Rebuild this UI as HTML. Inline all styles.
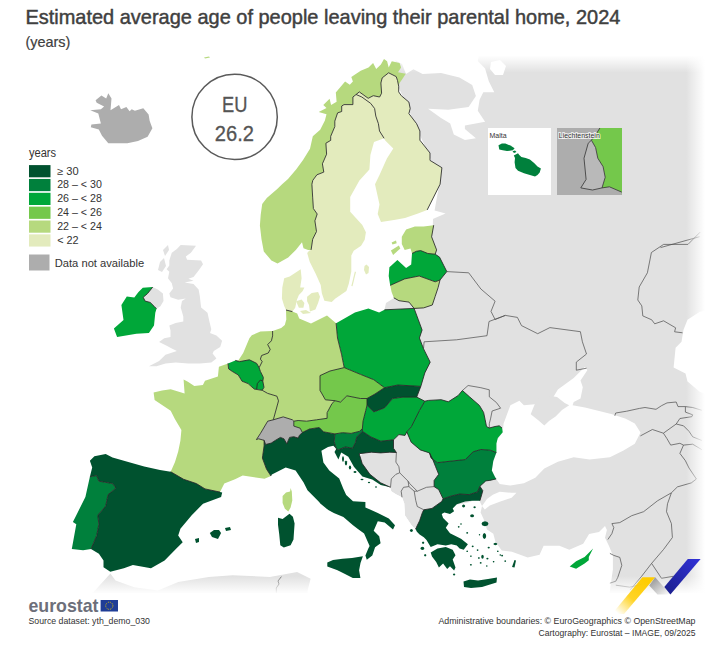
<!DOCTYPE html>
<html><head><meta charset="utf-8"><style>
html,body{margin:0;padding:0;background:#fff;}
body{width:707px;height:654px;position:relative;overflow:hidden;}
svg{position:absolute;left:0;top:0;}
svg text{font-family:"Liberation Sans",sans-serif;}
</style></head><body>
<svg width="707" height="654" viewBox="0 0 707 654">
<defs><linearGradient id="gT" x1="0" y1="0" x2="0" y2="1"><stop offset="0" stop-color="#fff" stop-opacity="1"/><stop offset="1" stop-color="#fff" stop-opacity="0"/></linearGradient><linearGradient id="gR" x1="0" y1="0" x2="1" y2="0"><stop offset="0" stop-color="#fff" stop-opacity="0"/><stop offset="1" stop-color="#fff" stop-opacity="1"/></linearGradient><linearGradient id="gB" x1="0" y1="0" x2="0" y2="1"><stop offset="0" stop-color="#fff" stop-opacity="0"/><stop offset="1" stop-color="#fff" stop-opacity="1"/></linearGradient><linearGradient id="gY" gradientUnits="userSpaceOnUse" x1="616" y1="612" x2="646" y2="578"><stop offset="0" stop-color="#ffcc00" stop-opacity="0"/><stop offset="0.45" stop-color="#ffcc00" stop-opacity="0.85"/><stop offset="1" stop-color="#ffcc00"/></linearGradient><linearGradient id="gG" x1="0" y1="0" x2="1" y2="1"><stop offset="0" stop-color="#8a8a8a"/><stop offset="1" stop-color="#ffffff"/></linearGradient><linearGradient id="gBl" x1="0" y1="1" x2="1" y2="0"><stop offset="0" stop-color="#1a1f8a"/><stop offset="1" stop-color="#3232d8"/></linearGradient></defs>
<path d="M395.0,56.0 707.0,56.0 707.0,600.0 460.0,600.0 460.0,520.0 481.0,497.0 470.0,502.0 455.0,505.0 440.0,512.0 425.0,520.0 414.2,527.9 411.2,524.8 405.0,515.6 404.3,503.4 402.0,497.3 395.9,494.2 391.3,491.2 382.1,488.1 371.4,482.0 362.0,475.0 355.0,466.0 370.0,440.0 400.0,400.0 420.0,330.0 414.1,308.4 384.5,309.8 386.0,303.0 394.0,298.0 420.0,285.0 430.0,250.0 432.0,225.0 440.0,180.0 398.0,86.0 395.0,56.0Z" fill="#e1e1e1"/>
<path d="M152.7,287.1 157.8,289.6 162.9,293.5 163.5,301.1 160.4,306.2 156.5,308.7 154.0,306.2 150.2,302.4 145.1,301.1 143.2,297.3 147.6,293.5Z" fill="#e1e1e1"/>
<path d="M180.7,245.1 196.0,245.7 190.9,252.7 185.8,256.5 187.1,259.7 201.1,260.4 203.0,264.2 198.6,270.6 193.5,276.9 188.4,278.8 193.5,280.7 184.6,282.6 193.5,283.9 198.6,289.6 199.8,296.0 201.1,307.6 207.5,312.7 209.4,321.6 211.3,329.3 210.0,333.1 216.4,335.6 222.1,340.7 220.2,347.1 213.8,350.9 212.6,353.5 216.4,358.6 211.3,362.4 199.8,363.6 188.4,363.6 175.6,362.4 165.5,363.6 156.5,366.2 148.9,366.2 159.1,361.1 165.5,354.7 176.9,350.9 171.8,348.4 166.7,345.8 159.1,342.0 164.2,338.2 170.5,336.9 170.5,330.6 169.3,325.5 175.6,322.9 183.3,321.6 183.3,316.5 180.7,307.6 182.0,301.1 185.8,298.6 178.2,299.8 170.5,297.3 169.3,293.5 173.1,288.4 171.8,283.3 168.0,278.2 169.3,271.8 166.7,269.3 169.3,265.5 169.3,260.4 171.8,252.7 176.9,248.9Z" fill="#e1e1e1"/>
<path d="M160.0,262.0 164.0,258.0 166.0,266.0 162.0,272.0 158.0,270.0Z" fill="#e1e1e1"/>
<path d="M163.0,250.0 168.0,245.0 169.0,250.0 165.0,256.0Z" fill="#e1e1e1"/>
<path d="M80.0,600.0 93.4,592.2 110.4,573.6 115.5,580.4 134.1,587.2 157.9,590.5 178.3,582.0 208.8,577.0 232.6,575.3 269.9,577.0 297.1,571.9 310.6,578.7 307.2,592.2 320.0,600.0Z" fill="#e1e1e1"/>
<path d="M395.0,50.0 480.0,50.0 477.8,61.0 485.1,68.4 488.8,81.3 494.3,92.3 483.3,92.3 479.6,99.7 477.8,110.7 485.1,121.7 464.9,125.4 464.9,129.1 475.9,138.3 464.9,140.1 453.8,134.6 450.2,123.6 441.0,118.0 428.1,108.8 448.3,109.8 468.6,107.0 475.9,96.0 472.2,84.9 459.4,77.6 441.0,73.0 422.6,73.9 413.4,69.3 406.0,73.9 402.0,64.0 395.0,60.0Z" fill="#fff"/>
<path d="M491.0,62.0 500.0,60.0 506.0,66.0 503.0,75.0 495.0,75.0 490.0,69.0Z" fill="#fff"/>
<path d="M405.0,215.0 427.2,209.9 432.8,209.9 445.6,213.6 432.8,219.1 432.8,225.5 405.0,235.0Z" fill="#fff"/>
<path d="M497.0,440.0 502.7,432.2 503.6,423.4 510.4,405.3 519.4,400.7 523.9,405.3 537.5,404.1 551.1,400.7 557.9,389.4 573.7,378.1 585.0,366.8 587.3,370.2 580.5,380.4 582.8,387.2 580.5,398.5 573.7,401.9 572.6,405.3 585.0,407.5 612.2,414.3 625.8,418.8 634.8,423.4 640.5,432.4 634.8,443.7 623.5,450.5 609.9,457.3 589.6,459.6 573.7,457.3 557.9,461.8 544.3,468.6 535.3,477.7 523.9,483.3 510.4,485.6 499.7,483.9 496.2,478.9 494.9,476.7 491.8,470.4 493.3,461.1 496.4,452.6 496.4,443.5Z" fill="#fff"/>
<path d="M492.8,494.8 499.7,491.8 511.6,492.8 516.5,492.8 511.6,497.7 499.7,501.7 489.8,505.6 484.8,509.6 482.0,506.0 487.0,499.0Z" fill="#fff"/>
<path d="M478.0,497.0 480.0,502.0 482.0,506.1 480.6,512.4 483.5,518.8 487.0,529.4 493.3,533.7 495.5,542.1 501.8,550.6 511.9,551.7 527.7,557.6 539.6,554.7 543.6,545.7 559.4,545.7 569.3,549.7 583.2,543.8 589.1,533.9 599.0,531.9 605.0,525.9 606.9,529.9 605.0,537.8 608.9,545.7 612.9,555.6 612.9,569.5 610.9,583.4 609.9,591.3 609.0,600.0 450.0,600.0 450.0,520.0Z" fill="#fff"/>
<path d="M687.5,319.8 699.4,311.9 707.0,310.0 707.0,395.0 699.4,391.4 687.5,381.5 685.5,373.5 673.6,367.6 675.6,347.7 681.5,341.7 683.5,329.8Z" fill="#fff"/>
<path d="M336.0,448.0 341.2,452.5 348.3,456.8 353.9,466.7 362.4,476.6 372.3,479.4 380.8,485.0 390.5,487.3 391.3,491.2 395.9,494.2 402.0,497.3 404.3,503.4 405.0,515.6 411.2,524.8 414.2,527.9 420.0,600.0 340.0,600.0 340.0,460.0Z" fill="#fff"/>
<path d="M530.7,414.3 534.0,406.0 537.0,399.0 551.0,396.0 557.0,397.0 564.7,403.0 569.2,405.3 562.0,410.0 555.6,416.6 549.0,421.0 544.3,425.6 538.0,420.0Z" fill="#e1e1e1"/>
<g fill="none" stroke="#4a4a4a" stroke-width="0.7" stroke-linejoin="round"><path d="M396.4,452.5 395.9,462.1 398.9,466.7 399.7,472.8 395.9,474.3 391.3,478.9 390.5,487.3"/><path d="M399.7,472.8 408.1,481.2 408.9,486.6 403.5,487.3 401.2,491.2 402.0,497.3"/><path d="M408.1,481.2 409.6,483.5 417.3,491.2 426.5,487.3 434.1,486.6"/><path d="M408.9,486.6 414.2,491.2 415.7,500.3 417.3,506.5 423.8,509.8"/><path d="M417.3,491.2 414.2,491.2"/><path d="M446.8,271.6 468.7,272.8 480.9,289.0 495.1,301.2 491.0,311.4 495.1,319.5 505.3,315.4"/><path d="M423.5,348.7 424.1,341.8 456.5,339.8 487.0,335.7 489.0,321.5 505.3,315.4 517.4,317.4 521.5,325.6 537.7,333.7 549.9,327.6 580.4,331.7 582.4,341.8 586.5,354.0 576.3,362.1 576.3,370.2 586.5,368.2"/><path d="M462.4,390.5 468.1,385.5 480.8,387.7 489.3,389.8 489.3,396.8 496.4,402.5 500.6,408.2 492.1,411.0 490.7,418.1 489.3,423.7 489.3,428.0"/><path d="M414.1,308.4 432.9,303.0"/><path d="M700.1,232.2 688.0,244.4 663.6,244.4 651.4,252.5 647.4,272.8 639.2,287.0 637.8,300.0 641.8,305.9 642.8,315.9 651.7,319.8 654.7,323.8 663.6,320.8 675.6,327.8 674.6,331.8 682.5,332.8"/><path d="M660.5,247.6 699.6,236.7"/><path d="M614.8,415.8 615.7,413.0 626.7,411.2 639.5,408.4 645.0,407.5 656.0,409.3 661.5,405.7 667.0,402.9 676.2,402.0 678.0,406.6 685.4,406.6 692.7,407.5 701.9,410.3"/><path d="M685.4,406.6 685.4,412.1 692.7,414.8 691.8,416.7 679.9,418.5 676.2,424.0 663.4,433.2"/><path d="M640.4,435.9 652.4,429.5 663.4,433.2 667.0,438.7 670.7,445.1 679.9,443.3 683.5,445.1"/><path d="M676.2,424.0 683.5,425.8 689.0,431.3 692.7,436.8 701.9,440.5"/><path d="M683.5,445.1 692.7,444.2 701.9,449.7"/><path d="M683.5,445.1 679.9,453.4 685.4,460.7 689.0,468.0 696.4,479.0"/><path d="M607.9,539.5 611.9,533.6 613.8,527.6 611.9,523.6 619.8,522.6 631.7,515.7 643.6,511.7 657.5,500.8 671.4,492.8 677.4,486.9 691.3,482.9 696.4,479.0"/><path d="M671.4,492.8 667.5,503.8 666.5,511.7 671.4,523.6 672.4,537.5 663.5,549.5 651.6,563.4 641.6,576.3 630.0,590.0"/><path d="M651.6,563.4 659.5,575.3 661.5,578.3 673.4,576.3"/><path d="M609.9,553.4 613.8,555.4 619.8,557.4 621.8,565.4 617.8,577.3 615.8,581.2 609.9,583.2"/><path d="M615.8,585.2 629.7,587.2 641.6,584.4"/><path d="M281.4,576.6 278.0,581.0 279.0,584.0 276.3,588.0 276.3,593.0"/></g>
<rect x="380" y="55.5" width="327" height="17" fill="url(#gT)"/>
<rect x="686" y="50" width="19" height="560" fill="url(#gR)"/><rect x="705" y="50" width="2" height="560" fill="#fff"/>
<rect x="60" y="576" width="647" height="18" fill="url(#gB)"/>
<rect x="0" y="593.5" width="707" height="25" fill="#fff"/>
<path d="M95.6,100.2 101.4,95.4 106.2,98.6 108.3,93.3 111.5,98.6 110.5,110.3 119.0,105.0 121.0,109.2 126.4,107.1 129.6,111.3 131.7,109.2 134.9,110.8 143.3,108.2 148.6,114.5 149.7,120.9 152.4,128.3 147.6,136.8 138.0,141.0 127.4,143.2 116.8,143.2 108.3,143.2 102.0,135.7 98.8,129.4 90.8,127.2 91.4,124.6 100.9,123.5 98.3,113.5 90.3,110.3 100.9,109.2 104.1,106.6 96.7,102.8Z" fill="#adadad"/>
<path d="M311.1,249.9 308.1,249.9 303.5,248.3 302.0,242.2 295.8,249.9 288.2,257.5 277.5,263.6 271.4,260.6 263.8,251.4 261.5,239.2 259.9,225.4 260.7,214.7 262.2,204.0 266.8,197.9 277.5,188.8 282.1,184.2 288.0,178.9 296.3,169.3 303.2,159.7 310.0,148.7 312.8,136.3 320.2,129.8 324.9,120.5 326.5,114.2 318.7,111.9 326.5,108.0 323.3,104.9 329.6,98.7 331.1,104.9 336.6,101.8 335.8,92.5 345.1,81.6 349.8,84.7 352.9,81.6 351.3,76.9 360.7,70.7 368.5,67.6 373.1,62.9 376.2,69.1 380.9,64.4 384.0,59.0 387.1,61.3 388.7,67.6 391.8,61.3 399.6,62.9 401.1,67.6 398.0,72.2 405.8,73.8 402.7,78.4 399.6,83.1 398.7,86.2 397.5,80.5 396.2,76.6 388.6,72.8 382.2,77.9 380.9,83.0 381.6,93.2 379.6,97.0 373.3,95.7 368.2,98.3 359.3,91.9 356.1,94.5 352.9,97.0 352.9,104.6 344.0,104.6 341.7,106.0 341.7,111.5 337.6,112.9 334.8,121.1 334.8,126.6 330.7,136.3 330.7,140.4 325.9,143.2 326.6,154.2 322.4,163.8 323.8,172.1 316.9,174.8 312.8,180.3 311.9,184.2 312.7,197.9 313.4,208.6 317.2,214.0 314.9,220.8 316.5,231.5 312.7,239.2 311.1,249.9Z" fill="#b6d97e"/>
<path d="M356.1,94.5 361.8,97.0 370.7,103.4 374.6,108.5 375.8,116.1 378.4,123.7 379.5,131.0 384.1,138.3 374.0,142.0 370.4,154.9 369.4,169.5 359.4,180.6 350.2,197.1 350.2,211.7 362.3,225.0 365.9,232.3 364.7,239.7 361.1,245.8 353.7,250.7 351.3,255.6 351.3,271.5 348.8,283.7 346.4,291.1 335.4,298.4 331.7,302.1 324.4,300.8 321.9,293.5 320.7,284.9 315.8,273.9 309.7,261.7 307.2,253.1 309.1,250.7 311.1,249.9 312.7,239.2 316.5,231.5 314.9,220.8 317.2,214.0 313.4,208.6 312.7,197.9 311.9,184.2 312.8,180.3 316.9,174.8 323.8,172.1 322.4,163.8 326.6,154.2 325.9,143.2 330.7,140.4 330.7,136.3 334.8,126.6 334.8,121.1 337.6,112.9 341.7,111.5 341.7,106.0 344.0,104.6 352.9,104.6 352.9,97.0 356.1,94.5Z" fill="#e3ebbd"/>
<path d="M398.7,86.2 398.7,91.9 401.3,95.7 408.9,102.1 410.2,108.5 408.9,113.6 416.6,123.7 419.9,131.0 419.9,140.2 430.0,153.0 430.0,160.4 441.9,167.7 440.1,184.2 427.2,209.9 418.0,213.6 405.0,218.0 394.0,220.0 381.0,222.0 377.7,214.0 379.5,204.4 375.0,184.2 379.5,175.0 386.9,158.5 393.3,148.4 385.0,140.2 384.1,138.3 379.5,131.0 378.4,123.7 375.8,116.1 374.6,108.5 370.7,103.4 361.8,97.0 356.1,94.5 359.3,91.9 368.2,98.3 373.3,95.7 379.6,97.0 381.6,93.2 380.9,83.0 382.2,77.9 388.6,72.8 396.2,76.6 397.5,80.5 398.7,86.2Z" fill="#e3ebbd"/>
<path d="M433.7,225.2 431.6,236.8 436.6,249.9 435.2,254.2 427.9,253.5 420.7,250.6 416.3,251.3 412.0,253.5 410.5,248.4 404.7,249.9 401.8,244.0 401.8,236.8 406.1,229.5 414.9,226.6 423.6,226.6 433.7,225.2Z" fill="#b6d97e"/>
<path d="M412.0,253.5 416.3,251.3 420.7,250.6 427.9,253.5 435.2,254.2 439.5,257.1 443.9,265.8 446.8,271.6 440.0,280.0 435.2,281.8 419.2,276.0 404.7,278.9 390.2,285.4 388.7,276.0 389.4,267.3 397.4,260.0 406.1,268.0 411.2,264.4 412.0,253.5Z" fill="#00a739"/>
<path d="M390.2,285.4 391.6,292.0 393.8,297.8 398.9,300.7 409.0,302.1 414.1,308.4 423.6,307.9 432.3,305.0 435.2,296.3 438.1,287.6 440.0,280.0 435.2,281.8 419.2,276.0 404.7,278.9 390.2,285.4Z" fill="#b6d97e"/>
<path d="M336.1,323.2 354.9,312.5 368.4,308.4 379.1,312.5 384.5,309.8 414.1,308.4 418.1,319.2 422.1,330.0 419.4,338.0 423.5,348.7 430.2,362.2 424.8,372.9 420.8,386.4 397.9,385.0 384.5,387.7 373.7,379.7 360.3,374.3 344.2,367.6 341.5,354.1 337.5,338.0 336.1,323.2Z" fill="#00a739"/>
<path d="M336.1,323.2 327.0,315.4 311.0,323.4 299.2,318.4 297.2,313.5 292.4,311.6 286.0,310.0 286.3,319.4 284.8,324.9 281.2,328.0 272.6,331.0 272.6,335.9 271.4,340.8 267.7,344.5 270.2,349.4 268.3,353.0 261.6,355.5 260.4,359.1 262.2,361.6 259.1,367.7 260.4,371.4 263.4,377.5 262.8,381.2 264.0,387.3 262.2,390.3 267.7,393.4 276.9,396.2 278.5,400.9 273.3,419.8 283.2,416.9 292.4,419.8 293.8,421.2 298.1,420.5 306.6,421.2 316.5,419.8 327.1,418.3 327.1,412.7 332.0,403.5 334.9,400.7 325.4,399.8 320.0,390.4 320.0,375.6 330.0,371.0 344.2,367.6 341.5,354.1 337.5,338.0 336.1,323.2Z" fill="#b6d97e"/>
<path d="M235.3,360.4 238.3,360.4 243.2,353.0 249.4,338.3 251.8,335.3 260.4,331.6 272.6,331.0 272.6,335.9 271.4,340.8 267.7,344.5 270.2,349.4 268.3,353.0 261.6,355.5 260.4,359.1 262.2,361.6 259.1,367.7 256.7,363.4 249.4,359.8 239.6,361.6 235.3,360.4Z" fill="#b6d97e"/>
<path d="M235.3,360.4 228.0,363.4 228.6,368.9 232.2,371.4 238.3,375.0 242.0,381.2 248.1,383.6 254.3,389.1 262.2,390.3 264.0,387.3 262.8,381.2 263.4,377.5 260.4,371.4 259.1,367.7 256.7,363.4 249.4,359.8 239.6,361.6 235.3,360.4Z" fill="#00a739"/>
<path d="M228.0,363.4 218.9,366.8 217.9,376.4 205.0,380.7 202.9,385.0 194.3,386.1 187.9,381.8 183.6,379.6 184.6,393.6 170.7,389.3 162.1,390.4 153.6,392.5 154.6,400.0 164.3,406.4 170.7,410.7 175.0,419.3 181.4,430.0 180.4,440.7 178.2,451.4 175.0,462.1 170.7,471.8 183.6,479.3 196.4,483.6 205.0,488.9 220.0,492.1 224.3,483.6 235.0,479.3 242.7,475.6 264.5,478.7 271.0,476.0 266.5,469.1 262.4,458.1 262.7,455.8 264.1,445.9 264.1,440.3 258.5,438.8 256.4,439.6 260.6,433.2 267.7,421.2 273.3,419.8 278.5,400.9 276.9,396.2 267.7,393.4 262.2,390.3 254.3,389.1 248.1,383.6 242.0,381.2 238.3,375.0 232.2,371.4 228.6,368.9 228.0,363.4Z" fill="#b6d97e"/>
<path d="M264.1,440.3 258.5,438.8 256.4,439.6 260.6,433.2 267.7,421.2 273.3,419.8 283.2,416.9 292.4,419.8 293.8,421.2 293.8,426.1 300.2,428.2 302.3,432.5 299.5,435.3 298.1,438.1 293.8,436.7 289.6,437.4 286.8,443.8 283.9,438.8 280.4,437.4 275.5,440.3 271.2,443.1 265.6,444.5 264.1,440.3Z" fill="#adadad"/>
<path d="M264.1,440.3 265.6,444.5 271.2,443.1 275.5,440.3 280.4,437.4 283.9,438.8 286.8,443.8 289.6,437.4 293.8,436.7 298.1,438.1 299.5,435.3 302.3,432.5 309.4,429.0 319.3,427.5 323.5,431.8 334.9,433.9 334.2,441.7 336.3,448.7 333.3,445.8 328.0,447.0 321.4,450.7 323.4,462.6 329.3,470.5 339.2,478.5 343.2,488.4 346.2,495.0 353.0,501.2 365.4,501.9 365.4,507.4 377.8,512.9 388.8,518.4 395.0,525.3 393.0,529.4 384.7,522.5 377.8,521.2 373.7,530.8 379.2,536.3 380.6,543.2 375.1,547.3 372.3,555.6 366.8,559.7 365.4,555.6 368.2,548.7 369.6,546.0 364.1,533.6 358.6,529.4 353.0,525.3 343.4,517.0 333.8,512.9 328.3,510.1 320.0,503.3 319.4,502.2 307.5,490.3 303.6,482.4 295.6,470.5 285.7,467.6 271.9,474.5 271.0,476.0 266.5,469.1 262.4,458.1 262.7,455.8 264.1,445.9 264.1,440.3Z" fill="#00522f"/>
<path d="M334.9,400.7 332.0,403.5 327.1,412.7 327.1,418.3 316.5,419.8 306.6,421.2 298.1,420.5 293.8,421.2 293.8,426.1 300.2,428.2 302.3,432.5 309.4,429.0 319.3,427.5 323.5,431.8 334.9,433.9 342.6,432.7 351.1,433.4 359.6,431.3 362.4,428.5 363.0,421.3 365.7,410.6 367.0,405.2 367.0,398.5 360.3,398.5 346.9,395.8 340.5,402.1 334.9,400.7Z" fill="#74c84b"/>
<path d="M334.9,400.7 325.4,399.8 320.0,390.4 320.0,375.6 330.0,371.0 344.2,367.6 360.3,374.3 373.7,379.7 384.5,387.7 375.0,394.0 367.0,398.5 360.3,398.5 346.9,395.8 340.5,402.1 334.9,400.7Z" fill="#74c84b"/>
<path d="M384.5,387.7 397.9,385.0 420.8,386.4 416.7,397.1 403.3,397.1 392.6,398.5 384.5,407.9 373.7,411.9 367.0,405.2 367.0,398.5 375.0,394.0 384.5,387.7Z" fill="#00522f"/>
<path d="M416.7,397.1 403.3,397.1 392.6,398.5 384.5,407.9 373.7,411.9 367.0,405.2 365.7,410.6 363.0,421.3 362.4,428.5 362.4,431.3 371.0,437.0 380.8,441.2 393.5,439.8 398.9,434.6 405.0,435.4 406.8,431.9 411.4,426.7 419.4,410.6 424.8,401.2 416.7,397.1Z" fill="#00a739"/>
<path d="M336.3,448.7 334.2,441.7 334.9,433.9 342.6,432.7 351.1,433.4 359.6,431.3 362.4,428.5 362.4,431.3 356.8,437.0 355.4,442.6 352.5,448.3 345.5,446.9 338.4,449.7 336.3,448.7Z" fill="#00803c"/>
<path d="M336.3,448.7 338.4,449.7 345.5,446.9 352.5,448.3 355.4,442.6 356.8,437.0 362.4,431.3 371.0,437.0 380.8,441.2 393.5,439.8 393.5,448.3 396.4,452.5 389.8,452.2 380.6,452.9 371.4,452.2 359.2,453.7 362.2,463.6 369.9,474.3 380.6,482.8 390.5,487.3 380.8,485.0 372.3,479.4 362.4,476.6 353.9,466.7 348.3,456.8 341.2,452.5 338.4,459.6 334.5,452.0 336.3,448.7Z" fill="#00522f"/>
<path d="M424.8,401.2 419.4,410.6 411.4,426.7 406.8,431.9 411.2,442.2 420.3,449.9 429.5,452.9 431.1,458.0 437.3,462.7 451.3,461.1 465.3,459.6 473.1,451.8 480.9,449.5 490.2,450.2 496.4,452.6 496.4,443.5 497.8,437.9 502.7,432.2 502.0,428.0 499.2,425.8 495.0,426.5 489.3,428.0 486.5,426.5 485.1,419.5 483.6,412.4 479.4,405.4 469.5,396.8 462.4,390.5 458.2,395.5 448.3,401.8 441.2,399.7 428.5,400.4 424.8,401.2Z" fill="#00a739"/>
<path d="M496.4,452.6 490.2,450.2 480.9,449.5 473.1,451.8 465.3,459.6 451.3,461.1 437.3,462.7 431.1,458.0 429.5,452.9 432.6,459.1 435.6,466.7 438.7,474.3 434.1,480.5 434.1,486.6 438.7,489.6 443.1,498.8 451.3,496.0 459.6,494.0 469.2,494.6 477.5,491.9 479.9,486.3 485.8,480.9 489.8,480.4 496.2,478.9 494.9,476.7 491.8,470.4 493.3,461.1 496.4,452.6Z" fill="#00803c"/>
<path d="M479.9,486.3 477.5,491.9 469.2,494.6 459.6,494.0 451.3,496.0 443.1,498.8 441.7,501.5 432.0,508.4 423.8,509.8 422.4,512.5 419.6,520.8 415.5,529.1 416.9,531.8 419.6,534.6 423.8,537.3 426.5,540.1 430.7,547.0 437.5,544.2 445.8,545.6 451.3,544.2 456.8,545.6 459.6,548.4 463.7,549.7 467.9,544.2 461.0,538.7 455.5,536.0 450.0,533.2 445.8,527.7 448.6,523.6 443.1,518.1 441.7,513.9 444.4,512.5 450.0,513.9 454.1,511.2 452.7,508.4 456.8,504.3 465.1,501.5 472.0,500.8 479.9,500.7 481.6,495.0 482.8,490.7 479.9,486.3Z" fill="#00522f"/>
<path d="M292.4,311.6 295.2,307.7 297.0,299.4 298.9,294.9 302.5,291.2 304.4,287.5 300.2,287.5 301.6,278.3 300.7,269.2 289.7,276.5 284.2,278.3 282.3,287.5 281.9,298.5 284.2,305.9 286.0,310.0Z" fill="#e3ebbd"/>
<path d="M296.1,301.3 301.6,299.4 304.4,303.1 303.4,307.7 298.9,307.7Z" fill="#e3ebbd"/>
<path d="M307.1,296.7 311.7,293.0 318.1,292.1 320.0,296.7 318.1,303.1 315.4,309.5 309.9,311.4 309.0,305.0 307.1,301.3Z" fill="#e3ebbd"/>
<path d="M300.0,311.0 306.0,310.0 311.0,313.0 303.0,314.0Z" fill="#e3ebbd"/>
<path d="M336.0,288.0 339.0,287.0 340.0,291.0 337.0,292.0Z" fill="#e3ebbd"/>
<path d="M366.5,264.5 369.0,267.0 368.5,273.0 366.0,274.5 364.0,270.0 364.5,266.0Z" fill="#e3ebbd"/>
<path d="M354.9,271.5 356.0,272.0 352.5,286.2 351.3,286.0Z" fill="#e3ebbd"/>
<path d="M390.9,250.6 398.9,245.5 400.3,248.4 393.1,254.9Z" fill="#b6d97e"/>
<path d="M391.6,242.6 396.0,240.4 396.7,243.3 392.5,244.5Z" fill="#b6d97e"/>
<path d="M138.5,292.1 142.8,287.8 152.7,287.1 147.6,293.5 143.2,297.3 145.1,301.1 150.2,302.4 154.0,306.2 156.5,308.7 155.3,312.7 154.0,325.5 148.9,333.1 136.4,333.8 117.1,337.0 113.9,328.5 123.5,319.9 121.4,304.9 126.8,296.4 134.3,297.4Z" fill="#00a739"/>
<path d="M89.9,476.7 96.7,475.5 98.9,481.2 112.5,483.5 115.9,488.0 108.0,494.8 105.7,506.1 97.8,515.2 98.9,524.2 96.7,535.5 91.0,549.1 98.9,553.7 103.5,560.4 103.5,567.2 110.3,571.7 123.9,568.3 132.9,565.0 151.0,568.3 164.6,560.4 175.9,549.1 182.7,542.3 178.2,535.5 180.4,528.8 191.7,515.2 203.0,503.8 221.1,497.0 222.2,492.5 220.0,492.1 205.0,488.9 196.4,483.6 183.6,479.3 170.7,471.8 160.0,469.9 144.2,466.5 128.3,462.0 112.5,457.4 105.7,454.1 94.4,456.3 89.9,460.8 92.2,467.6Z" fill="#00522f"/>
<path d="M89.9,476.7 96.7,475.5 98.9,481.2 112.5,483.5 115.9,488.0 108.0,494.8 105.7,506.1 97.8,515.2 98.9,524.2 96.7,535.5 91.0,549.1 83.1,550.2 71.8,549.1 76.3,524.2 72.9,522.0 76.3,515.2 85.4,497.0Z" fill="#00803c"/>
<path d="M209.8,533.0 214.0,530.0 219.0,529.9 221.1,533.0 218.0,538.9 212.0,537.0Z" fill="#00522f"/>
<path d="M225.0,528.0 230.0,527.0 231.0,530.0 226.0,531.0Z" fill="#00522f"/>
<path d="M195.0,539.0 199.0,538.0 199.0,542.0 196.0,543.0Z" fill="#00522f"/>
<path d="M290.6,488.0 291.8,491.5 292.3,500.6 290.6,507.5 288.3,511.5 284.9,508.7 282.6,502.9 282.6,496.0 286.0,492.6 290.1,491.5Z" fill="#b6d97e"/>
<path d="M278.0,517.8 282.6,519.0 289.5,513.8 292.9,516.7 294.6,523.6 294.1,530.4 293.5,539.6 290.6,545.3 283.8,547.6 280.3,545.3 279.2,533.9 278.0,524.7Z" fill="#00522f"/>
<path d="M327.3,562.6 333.0,560.0 342.6,558.8 352.0,558.0 362.9,556.3 360.5,563.0 359.1,570.3 360.4,577.9 352.8,577.9 345.0,574.0 337.5,570.3 327.3,566.5Z" fill="#00522f"/>
<path d="M430.7,552.5 437.5,548.4 445.8,547.0 452.7,549.7 455.5,555.2 452.7,559.4 455.5,567.6 454.1,570.4 450.0,566.3 447.2,569.0 443.1,563.5 438.9,567.6 436.2,562.1 432.0,556.6Z" fill="#00522f"/>
<path d="M463.5,581.5 470.0,579.5 478.0,580.5 488.0,579.0 497.0,577.5 496.5,582.5 490.0,584.5 482.0,587.0 471.0,588.0 464.0,587.0Z" fill="#00522f"/>
<path d="M465.2,506.0 464.7,507.0 463.6,507.4 462.5,507.0 462.0,506.0 462.5,505.0 463.6,504.6 464.7,505.0Z" fill="#00522f"/>
<path d="M475.8,507.2 475.4,507.9 474.6,508.2 473.8,507.9 473.4,507.2 473.8,506.5 474.6,506.2 475.4,506.5Z" fill="#00522f"/>
<path d="M474.1,515.8 473.5,516.9 472.1,517.3 470.7,516.9 470.1,515.8 470.7,514.7 472.1,514.3 473.5,514.7Z" fill="#00522f"/>
<path d="M488.5,523.8 487.5,525.6 485.0,526.3 482.5,525.6 481.5,523.8 482.5,522.0 485.0,521.3 487.5,522.0Z" fill="#00522f"/>
<path d="M486.2,536.0 485.7,538.1 484.4,539.0 483.1,538.1 482.6,536.0 483.1,533.9 484.4,533.0 485.7,533.9Z" fill="#00522f"/>
<path d="M468.2,532.9 467.9,533.5 467.2,533.8 466.5,533.5 466.2,532.9 466.5,532.3 467.2,532.0 467.9,532.3Z" fill="#00522f"/>
<path d="M497.4,544.0 496.8,544.8 495.4,545.2 494.0,544.8 493.4,544.0 494.0,543.2 495.4,542.8 496.8,543.2Z" fill="#00522f"/>
<path d="M489.8,547.6 489.5,548.2 488.7,548.4 487.9,548.2 487.6,547.6 487.9,547.0 488.7,546.8 489.5,547.0Z" fill="#00522f"/>
<path d="M473.7,546.4 473.4,547.0 472.7,547.2 472.0,547.0 471.7,546.4 472.0,545.8 472.7,545.6 473.4,545.8Z" fill="#00522f"/>
<path d="M478.5,550.1 478.2,550.7 477.6,551.0 477.0,550.7 476.7,550.1 477.0,549.5 477.6,549.2 478.2,549.5Z" fill="#00522f"/>
<path d="M483.8,556.8 483.4,558.2 482.5,558.8 481.6,558.2 481.2,556.8 481.6,555.4 482.5,554.8 483.4,555.4Z" fill="#00522f"/>
<path d="M479.9,558.0 479.6,558.6 478.9,558.9 478.2,558.6 477.9,558.0 478.2,557.4 478.9,557.1 479.6,557.4Z" fill="#00522f"/>
<path d="M488.5,558.6 488.2,559.2 487.4,559.4 486.6,559.2 486.3,558.6 486.6,558.0 487.4,557.8 488.2,558.0Z" fill="#00522f"/>
<path d="M471.9,564.8 471.6,565.4 470.9,565.6 470.2,565.4 469.9,564.8 470.2,564.2 470.9,564.0 471.6,564.2Z" fill="#00522f"/>
<path d="M481.7,562.9 481.4,563.5 480.7,563.7 480.0,563.5 479.7,562.9 480.0,562.3 480.7,562.1 481.4,562.3Z" fill="#00522f"/>
<path d="M503.1,555.6 502.8,556.2 502.1,556.5 501.4,556.2 501.1,555.6 501.4,555.0 502.1,554.7 502.8,555.0Z" fill="#00522f"/>
<path d="M506.1,561.1 505.8,561.7 505.2,561.9 504.6,561.7 504.3,561.1 504.6,560.5 505.2,560.3 505.8,560.5Z" fill="#00522f"/>
<path d="M494.4,561.7 494.2,562.3 493.6,562.5 493.0,562.3 492.8,561.7 493.0,561.1 493.6,560.9 494.2,561.1Z" fill="#00522f"/>
<path d="M487.6,566.0 487.4,566.6 486.8,566.8 486.2,566.6 486.0,566.0 486.2,565.4 486.8,565.2 487.4,565.4Z" fill="#00522f"/>
<path d="M468.0,551.3 467.8,551.9 467.2,552.1 466.6,551.9 466.4,551.3 466.6,550.7 467.2,550.5 467.8,550.7Z" fill="#00522f"/>
<path d="M471.7,556.2 471.5,556.8 470.9,557.0 470.3,556.8 470.1,556.2 470.3,555.6 470.9,555.4 471.5,555.6Z" fill="#00522f"/>
<path d="M498.6,551.3 498.4,551.9 497.8,552.1 497.2,551.9 497.0,551.3 497.2,550.7 497.8,550.5 498.4,550.7Z" fill="#00522f"/>
<path d="M501.1,555.0 500.9,555.6 500.3,555.8 499.7,555.6 499.5,555.0 499.7,554.4 500.3,554.2 500.9,554.4Z" fill="#00522f"/>
<path d="M459.6,526.8 459.3,527.4 458.7,527.7 458.1,527.4 457.8,526.8 458.1,526.2 458.7,525.9 459.3,526.2Z" fill="#00522f"/>
<path d="M461.8,524.0 461.6,524.6 461.0,524.8 460.4,524.6 460.2,524.0 460.4,523.4 461.0,523.2 461.6,523.4Z" fill="#00522f"/>
<path d="M480.2,534.8 480.0,535.3 479.5,535.5 479.0,535.3 478.8,534.8 479.0,534.3 479.5,534.1 480.0,534.3Z" fill="#00522f"/>
<path d="M412.9,530.5 412.5,531.6 411.4,532.0 410.3,531.6 409.9,530.5 410.3,529.4 411.4,529.0 412.5,529.4Z" fill="#00522f"/>
<path d="M424.4,548.4 423.8,549.5 422.4,550.0 421.0,549.5 420.4,548.4 421.0,547.3 422.4,546.8 423.8,547.3Z" fill="#00522f"/>
<path d="M426.4,555.2 426.0,556.0 425.2,556.4 424.4,556.0 424.0,555.2 424.4,554.4 425.2,554.0 426.0,554.4Z" fill="#00522f"/>
<path d="M424.3,542.8 423.9,543.6 423.1,544.0 422.3,543.6 421.9,542.8 422.3,542.0 423.1,541.6 423.9,542.0Z" fill="#00522f"/>
<path d="M455.3,574.5 454.9,575.2 454.1,575.5 453.3,575.2 452.9,574.5 453.3,573.8 454.1,573.5 454.9,573.8Z" fill="#00522f"/>
<path d="M512.0,567.0 514.5,560.0 516.0,560.5 514.5,567.5Z" fill="#00522f"/>
<path d="M344.0,459.0 343.7,461.1 343.0,462.0 342.3,461.1 342.0,459.0 342.3,456.9 343.0,456.0 343.7,456.9Z" fill="#00522f"/>
<path d="M347.2,463.0 346.8,464.8 346.0,465.5 345.2,464.8 344.8,463.0 345.2,461.2 346.0,460.5 346.8,461.2Z" fill="#00522f"/>
<path d="M351.2,467.5 350.8,468.9 350.0,469.5 349.2,468.9 348.8,467.5 349.2,466.1 350.0,465.5 350.8,466.1Z" fill="#00522f"/>
<path d="M356.5,472.0 356.1,472.7 355.0,473.0 353.9,472.7 353.5,472.0 353.9,471.3 355.0,471.0 356.1,471.3Z" fill="#00522f"/>
<path d="M363.5,479.5 363.1,480.1 362.0,480.3 360.9,480.1 360.5,479.5 360.9,478.9 362.0,478.7 363.1,478.9Z" fill="#00522f"/>
<path d="M370.2,482.5 369.8,483.0 369.0,483.2 368.2,483.0 367.8,482.5 368.2,482.0 369.0,481.8 369.8,482.0Z" fill="#00522f"/>
<path d="M377.0,487.0 376.7,487.5 376.0,487.7 375.3,487.5 375.0,487.0 375.3,486.5 376.0,486.3 376.7,486.5Z" fill="#00522f"/>
<path d="M569.7,566.5 576.1,561.2 584.6,557.0 593.1,548.5 588.8,557.0 588.8,560.2 584.6,563.4 576.1,568.7Z" fill="#00a739"/>
<g fill="none" stroke="#262626" stroke-width="0.85" stroke-linejoin="round"><path d="M356.1,94.5 352.9,97.0 352.9,104.6 344.0,104.6 341.7,106.0 341.7,111.5 337.6,112.9 334.8,121.1 334.8,126.6 330.7,136.3 330.7,140.4 325.9,143.2 326.6,154.2 322.4,163.8 323.8,172.1 316.9,174.8 312.8,180.3 311.9,184.2 312.7,197.9 313.4,208.6 317.2,214.0 314.9,220.8 316.5,231.5 312.7,239.2 311.1,249.9"/><path d="M398.7,86.2 397.5,80.5 396.2,76.6 388.6,72.8 382.2,77.9 380.9,83.0 381.6,93.2 379.6,97.0 373.3,95.7 368.2,98.3 359.3,91.9 356.1,94.5"/><path d="M356.1,94.5 361.8,97.0 370.7,103.4 374.6,108.5 375.8,116.1 378.4,123.7 379.5,131.0 384.1,138.3"/><path d="M398.7,86.2 398.7,91.9 401.3,95.7 408.9,102.1 410.2,108.5 408.9,113.6 416.6,123.7 419.9,131.0 419.9,140.2 430.0,153.0 430.0,160.4 441.9,167.7 440.1,184.2 427.2,209.9"/><path d="M433.7,225.2 431.6,236.8 436.6,249.9 435.2,254.2"/><path d="M435.2,254.2 427.9,253.5 420.7,250.6 416.3,251.3 412.0,253.5"/><path d="M435.2,254.2 439.5,257.1 443.9,265.8 446.8,271.6"/><path d="M446.8,271.6 440.0,280.0"/><path d="M440.0,280.0 435.2,281.8 419.2,276.0 404.7,278.9 390.2,285.4"/><path d="M393.8,297.8 398.9,300.7 409.0,302.1 414.1,308.4"/><path d="M414.1,308.4 423.6,307.9 432.3,305.0 435.2,296.3 438.1,287.6 440.0,280.0"/><path d="M384.5,309.8 414.1,308.4"/><path d="M414.1,308.4 418.1,319.2 422.1,330.0 419.4,338.0 423.5,348.7"/><path d="M423.5,348.7 430.2,362.2 424.8,372.9 420.8,386.4"/><path d="M420.8,386.4 397.9,385.0 384.5,387.7"/><path d="M384.5,387.7 373.7,379.7 360.3,374.3 344.2,367.6"/><path d="M344.2,367.6 341.5,354.1 337.5,338.0 336.1,323.2"/><path d="M292.4,311.6 286.0,310.0"/><path d="M272.6,331.0 272.6,335.9 271.4,340.8 267.7,344.5 270.2,349.4 268.3,353.0 261.6,355.5 260.4,359.1 262.2,361.6 259.1,367.7"/><path d="M259.1,367.7 260.4,371.4 263.4,377.5 262.8,381.2 264.0,387.3 262.2,390.3"/><path d="M262.2,390.3 267.7,393.4 276.9,396.2 278.5,400.9 273.3,419.8"/><path d="M273.3,419.8 283.2,416.9 292.4,419.8 293.8,421.2"/><path d="M293.8,421.2 298.1,420.5 306.6,421.2 316.5,419.8 327.1,418.3 327.1,412.7 332.0,403.5 334.9,400.7"/><path d="M334.9,400.7 325.4,399.8 320.0,390.4 320.0,375.6 330.0,371.0 344.2,367.6"/><path d="M259.1,367.7 256.7,363.4 249.4,359.8 239.6,361.6 235.3,360.4"/><path d="M228.0,363.4 228.6,368.9 232.2,371.4 238.3,375.0 242.0,381.2 248.1,383.6 254.3,389.1 262.2,390.3"/><path d="M170.7,471.8 183.6,479.3 196.4,483.6 205.0,488.9 220.0,492.1"/><path d="M271.0,476.0 266.5,469.1 262.4,458.1 262.7,455.8 264.1,445.9 264.1,440.3"/><path d="M264.1,440.3 258.5,438.8 256.4,439.6 260.6,433.2 267.7,421.2 273.3,419.8"/><path d="M264.1,440.3 265.6,444.5 271.2,443.1 275.5,440.3 280.4,437.4 283.9,438.8 286.8,443.8 289.6,437.4 293.8,436.7 298.1,438.1 299.5,435.3 302.3,432.5"/><path d="M302.3,432.5 300.2,428.2 293.8,426.1 293.8,421.2"/><path d="M302.3,432.5 309.4,429.0 319.3,427.5 323.5,431.8 334.9,433.9"/><path d="M334.9,433.9 334.2,441.7 336.3,448.7"/><path d="M334.9,433.9 342.6,432.7 351.1,433.4 359.6,431.3 362.4,428.5"/><path d="M362.4,428.5 363.0,421.3 365.7,410.6 367.0,405.2"/><path d="M367.0,405.2 367.0,398.5"/><path d="M367.0,398.5 360.3,398.5 346.9,395.8 340.5,402.1 334.9,400.7"/><path d="M384.5,387.7 375.0,394.0 367.0,398.5"/><path d="M420.8,386.4 416.7,397.1"/><path d="M416.7,397.1 403.3,397.1 392.6,398.5 384.5,407.9 373.7,411.9 367.0,405.2"/><path d="M416.7,397.1 424.8,401.2"/><path d="M424.8,401.2 419.4,410.6 411.4,426.7 406.8,431.9"/><path d="M406.8,431.9 405.0,435.4 398.9,434.6 393.5,439.8"/><path d="M393.5,439.8 380.8,441.2 371.0,437.0 362.4,431.3"/><path d="M362.4,428.5 362.4,431.3"/><path d="M362.4,431.3 356.8,437.0 355.4,442.6 352.5,448.3 345.5,446.9 338.4,449.7 336.3,448.7"/><path d="M393.5,439.8 393.5,448.3 396.4,452.5"/><path d="M396.4,452.5 389.8,452.2 380.6,452.9 371.4,452.2 359.2,453.7 362.2,463.6 369.9,474.3 380.6,482.8 390.5,487.3"/><path d="M406.8,431.9 411.2,442.2 420.3,449.9 429.5,452.9"/><path d="M429.5,452.9 431.1,458.0 437.3,462.7 451.3,461.1 465.3,459.6 473.1,451.8 480.9,449.5 490.2,450.2 496.4,452.6"/><path d="M502.0,428.0 499.2,425.8 495.0,426.5 489.3,428.0"/><path d="M489.3,428.0 486.5,426.5 485.1,419.5 483.6,412.4 479.4,405.4 469.5,396.8 462.4,390.5"/><path d="M462.4,390.5 458.2,395.5 448.3,401.8 441.2,399.7 428.5,400.4 424.8,401.2"/><path d="M496.2,478.9 489.8,480.4 485.8,480.9 479.9,486.3"/><path d="M479.9,486.3 477.5,491.9 469.2,494.6 459.6,494.0 451.3,496.0 443.1,498.8"/><path d="M443.1,498.8 438.7,489.6 434.1,486.6"/><path d="M434.1,486.6 434.1,480.5 438.7,474.3 435.6,466.7 432.6,459.1 429.5,452.9"/><path d="M443.1,498.8 441.7,501.5 432.0,508.4 423.8,509.8"/><path d="M423.8,509.8 422.4,512.5 419.6,520.8 415.5,529.1"/><path d="M479.9,486.3 482.8,490.7 481.6,495.0 479.9,500.7"/><path d="M89.9,476.7 96.7,475.5 98.9,481.2 112.5,483.5 115.9,488.0 108.0,494.8 105.7,506.1 97.8,515.2 98.9,524.2 96.7,535.5 91.0,549.1"/><path d="M152.7,287.1 147.6,293.5 143.2,297.3 145.1,301.1 150.2,302.4 154,306.2 156.5,308.7"/><path d="M262.8,381.2 260.4,380 257.3,383.6 256.7,389"/></g>
<circle cx="234.6" cy="116.9" r="42.7" fill="#fff" stroke="#5a5a5a" stroke-width="1.5"/>
<text x="222.1" y="111.9" font-size="22" fill="#555" text-anchor="start" textLength="25.4" lengthAdjust="spacingAndGlyphs" stroke="#555" stroke-width="0.3">EU</text>
<text x="214.8" y="140.9" font-size="22" fill="#555" text-anchor="start" textLength="39.2" lengthAdjust="spacingAndGlyphs" stroke="#555" stroke-width="0.3">26.2</text>
<path d="M204,57.5 L209,56.5 L210,57.5 L205,58.5Z" fill="#b6d97e"/>
<rect x="488" y="128" width="63" height="67" fill="#fff"/>
<text x="489.5" y="137.5" font-size="7" fill="#333" textLength="17" lengthAdjust="spacingAndGlyphs">Malta</text>
<path d="M513.8,155.4 518.0,153.3 519.3,155.0 521.4,157.1 525.7,157.9 529.9,159.6 534.1,163.0 537.5,166.4 540.9,168.5 539.7,172.4 537.5,174.9 535.0,176.6 529.9,174.9 524.0,173.2 518.0,170.7 515.5,168.1 514.6,162.2 515.0,157.9Z" fill="#00803c"/>
<path d="M498.5,145.2 501.9,143.5 505.3,143.5 510.4,145.6 514.6,148.2 512.9,150.3 507.0,151.1 502.7,150.3 499.3,149.4Z" fill="#00803c"/>
<path d="M512.5,151.2 515.0,150.5 516.5,152.0 514.0,153.0Z" fill="#00803c"/>
<rect x="557" y="128" width="65" height="67" fill="#adadad"/>
<path d="M599.9,128.0 622.0,128.0 622.0,195.0 621.7,192.1 609.4,186.8 602.0,187.9 605.2,177.3 603.1,166.7 597.8,158.2 595.6,147.6 591.4,140.2 595.6,134.9Z" fill="#74c84b"/>
<path d="M591.4,140.2 588.2,143.3 584.0,158.2 586.1,179.4 580.8,187.9 592.5,190.0 602.0,187.9 605.2,177.3 603.1,166.7 597.8,158.2 595.6,147.6Z" fill="#b9b9b9"/>
<path d="M599.9,128 595.6,134.9 591.4,140.2 595.6,147.6 597.8,158.2 603.1,166.7 605.2,177.3 602,187.9 609.4,186.8 621.7,192.1" fill="none" stroke="#333" stroke-width="0.8"/>
<path d="M591.4,140.2 588.2,143.3 584,158.2 586.1,179.4 580.8,187.9 592.5,190 602,187.9" fill="none" stroke="#333" stroke-width="0.8"/>
<text x="558.8" y="137.5" font-size="7" fill="#333" stroke="#fff" stroke-opacity="0.75" stroke-width="2" paint-order="stroke" textLength="41" lengthAdjust="spacingAndGlyphs">Liechtenstein</text>
<path d="M612,614 L624,614 L655.2,577.2 L642.4,577.2 Z" fill="url(#gY)"/>
<path d="M649.2,585.6 L655.2,577.2 L670.4,594.6 L657.5,594.6 Z" fill="url(#gG)"/>
<path d="M664.3,587.1 L687.8,559.1 L700.6,559.1 L670.4,594.6 Z" fill="url(#gBl)"/>
<text x="25.4" y="24" font-size="20.3" fill="#404040" text-anchor="start" textLength="595" lengthAdjust="spacingAndGlyphs" stroke="#404040" stroke-width="0.45">Estimated average age of people leaving their parental home, 2024</text>
<text x="25.4" y="46.7" font-size="15" fill="#404040" text-anchor="start" textLength="45" lengthAdjust="spacingAndGlyphs" stroke="#404040" stroke-width="0.2">(years)</text>
<text x="29" y="157.4" font-size="12" fill="#333" text-anchor="start" textLength="27.1" lengthAdjust="spacingAndGlyphs">years</text>
<rect x="29" y="165.10" width="21.5" height="12.2" fill="#00522f"/>
<text x="57.2" y="174.60" font-size="10.6" fill="#333" text-anchor="start" textLength="21.5" lengthAdjust="spacingAndGlyphs">≥ 30</text>
<rect x="29" y="178.95" width="21.5" height="12.2" fill="#00803c"/>
<text x="57.2" y="188.45" font-size="10.6" fill="#333" text-anchor="start" textLength="44.7" lengthAdjust="spacingAndGlyphs">28 – &lt; 30</text>
<rect x="29" y="192.80" width="21.5" height="12.2" fill="#00a739"/>
<text x="57.2" y="202.30" font-size="10.6" fill="#333" text-anchor="start" textLength="44.7" lengthAdjust="spacingAndGlyphs">26 – &lt; 28</text>
<rect x="29" y="206.65" width="21.5" height="12.2" fill="#74c84b"/>
<text x="57.2" y="216.15" font-size="10.6" fill="#333" text-anchor="start" textLength="44.7" lengthAdjust="spacingAndGlyphs">24 – &lt; 26</text>
<rect x="29" y="220.50" width="21.5" height="12.2" fill="#b6d97e"/>
<text x="57.2" y="230.00" font-size="10.6" fill="#333" text-anchor="start" textLength="44.7" lengthAdjust="spacingAndGlyphs">22 – &lt; 24</text>
<rect x="29" y="234.35" width="21.5" height="12.2" fill="#e3ebbd"/>
<text x="57.2" y="243.85" font-size="10.6" fill="#333" text-anchor="start" textLength="21.5" lengthAdjust="spacingAndGlyphs">&lt; 22</text>
<rect x="29" y="254.5" width="20.5" height="16" fill="#adadad"/>
<text x="54.7" y="266.7" font-size="11.2" fill="#333" text-anchor="start" textLength="89.5" lengthAdjust="spacingAndGlyphs">Data not available</text>
<text x="28.5" y="611.5" font-size="19" fill="#6d6f7a" text-anchor="start" textLength="70" lengthAdjust="spacingAndGlyphs" font-weight="bold">eurostat</text>
<rect x="100.6" y="600" width="17.4" height="11.5" fill="#1f3d96"/>
<circle cx="109.3" cy="605.75" r="3.6" fill="none" stroke="#e8c800" stroke-width="0.9" stroke-dasharray="0.9 1"/>
<text x="28.5" y="624.3" font-size="9.8" fill="#333" text-anchor="start" textLength="121.4" lengthAdjust="spacingAndGlyphs">Source dataset: yth_demo_030</text>
<text x="695.5" y="624" font-size="9" fill="#333" text-anchor="end" textLength="257" lengthAdjust="spacingAndGlyphs">Administrative boundaries: © EuroGeographics © OpenStreetMap</text>
<text x="695.5" y="635.8" font-size="9" fill="#333" text-anchor="end" textLength="157" lengthAdjust="spacingAndGlyphs">Cartography: Eurostat – IMAGE, 09/2025</text>
</svg>
</body></html>
